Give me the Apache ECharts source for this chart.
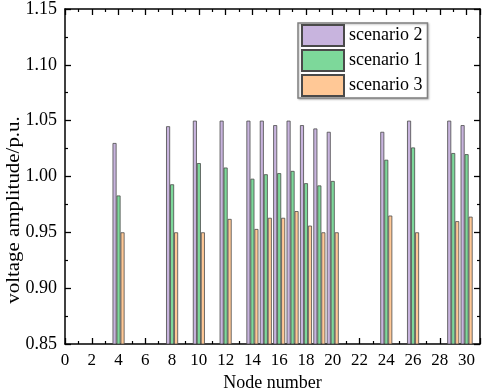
<!DOCTYPE html>
<html>
<head>
<meta charset="utf-8">
<script src="https://cdn.jsdelivr.net/npm/echarts@6/dist/echarts.min.js"></script>
<style>
html, body { margin: 0; padding: 0; background: #fff; }
#chart { width: 484px; height: 389px; }
</style>
</head>
<body>
<div id="chart"></div>
<script>
// node numbers with measured bus voltages
var nodes = [4, 8, 10, 12, 14, 15, 16, 17, 18, 19, 20, 24, 26, 29, 30];
var scenario2 = [1.030, 1.045, 1.050, 1.050, 1.050, 1.050, 1.046, 1.050, 1.046, 1.043, 1.040, 1.040, 1.050, 1.050, 1.046];
var scenario1 = [0.983, 0.993, 1.012, 1.008, 0.998, 1.002, 1.003, 1.005, 0.994, 0.992, 0.996, 1.015, 1.026, 1.021, 1.020];
var scenario3 = [0.950, 0.950, 0.950, 0.962, 0.953, 0.963, 0.963, 0.969, 0.956, 0.950, 0.950, 0.965, 0.950, 0.960, 0.964];

var fontFam = '"Liberation Serif", "Times New Roman", serif';

function pairs(vals) {
    return nodes.map(function (n, i) { return [n, vals[i]]; });
}

var tickStyle = { show: true, inside: true, length: 6, lineStyle: { color: '#000', width: 1.3 } };
var minorStyle = { show: true, splitNumber: 2, length: 3, lineStyle: { color: '#000', width: 1.2 } };
var lineStyle = { show: true, onZero: false, lineStyle: { color: '#000', width: 1.5 } };

var option = {
    animation: false,
    grid: { left: 65, right: 4, top: 9, bottom: 45, outerBoundsMode: 'none' },
    // y axis title, drawn by hand so it can sit lower than the plot centre like the original
    graphic: [{
        type: 'text',
        x: 14,
        y: 210,
        rotation: Math.PI / 2,
        scaleX: 1.1,
        style: {
            text: 'voltage amplitude/p.u.',
            font: '19px "Liberation Serif", serif',
            fill: '#000',
            align: 'center',
            verticalAlign: 'middle'
        }
    }],
    legend: {
        orient: 'vertical',
        left: 298,
        top: 23,
        padding: [1, 5, 1, 3],
        icon: 'rect',
        itemWidth: 42,
        itemHeight: 21,
        itemGap: 2,
        backgroundColor: '#fff',
        borderColor: '#808080',
        borderWidth: 1.5,
        shadowColor: 'rgba(0,0,0,0.25)',
        shadowBlur: 2,
        shadowOffsetX: 1,
        shadowOffsetY: 1,
        textStyle: { fontFamily: fontFam, fontSize: 18, color: '#000' },
        data: ['scenario 2', 'scenario 1', 'scenario 3']
    },
    xAxis: [
        {
            type: 'value',
            min: 0,
            max: 31,
            interval: 2,
            name: 'Node number',
            nameLocation: 'middle',
            nameGap: 28,
            nameTextStyle: { fontFamily: fontFam, fontSize: 18, color: '#000' },
            axisLine: lineStyle,
            axisTick: tickStyle,
            minorTick: minorStyle,
            splitLine: { show: false },
            axisLabel: { fontFamily: fontFam, fontSize: 17, color: '#000', margin: 8, showMaxLabel: false }
        },
        {
            type: 'value',
            position: 'top',
            min: 0,
            max: 31,
            interval: 2,
            axisLine: lineStyle,
            axisTick: tickStyle,
            minorTick: minorStyle,
            splitLine: { show: false },
            axisLabel: { show: false }
        }
    ],
    yAxis: [
        {
            type: 'value',
            min: 0.85,
            max: 1.15,
            interval: 0.05,
            axisLine: lineStyle,
            axisTick: tickStyle,
            minorTick: minorStyle,
            splitLine: { show: false },
            axisLabel: {
                fontFamily: fontFam, fontSize: 18, color: '#000', margin: 8,
                formatter: function (v) { return v.toFixed(2); }
            }
        },
        {
            type: 'value',
            position: 'right',
            min: 0.85,
            max: 1.15,
            interval: 0.05,
            axisLine: lineStyle,
            axisTick: tickStyle,
            minorTick: minorStyle,
            splitLine: { show: false },
            axisLabel: { show: false }
        }
    ],
    series: [
        {
            name: 'scenario 2',
            type: 'bar',
            barWidth: 4,
            barGap: '0%',
            data: pairs(scenario2),
            itemStyle: { color: '#c8b4de', borderColor: '#4a4a4a', borderWidth: 0.8 }
        },
        {
            name: 'scenario 1',
            type: 'bar',
            barWidth: 4,
            barGap: '0%',
            data: pairs(scenario1),
            itemStyle: { color: '#7dd89a', borderColor: '#4a4a4a', borderWidth: 0.8 }
        },
        {
            name: 'scenario 3',
            type: 'bar',
            barWidth: 4,
            barGap: '0%',
            data: pairs(scenario3),
            itemStyle: { color: '#ffc896', borderColor: '#4a4a4a', borderWidth: 0.8 }
        }
    ]
};

var chart = echarts.init(document.getElementById('chart'));
chart.setOption(option);
</script>
</body>
</html>
